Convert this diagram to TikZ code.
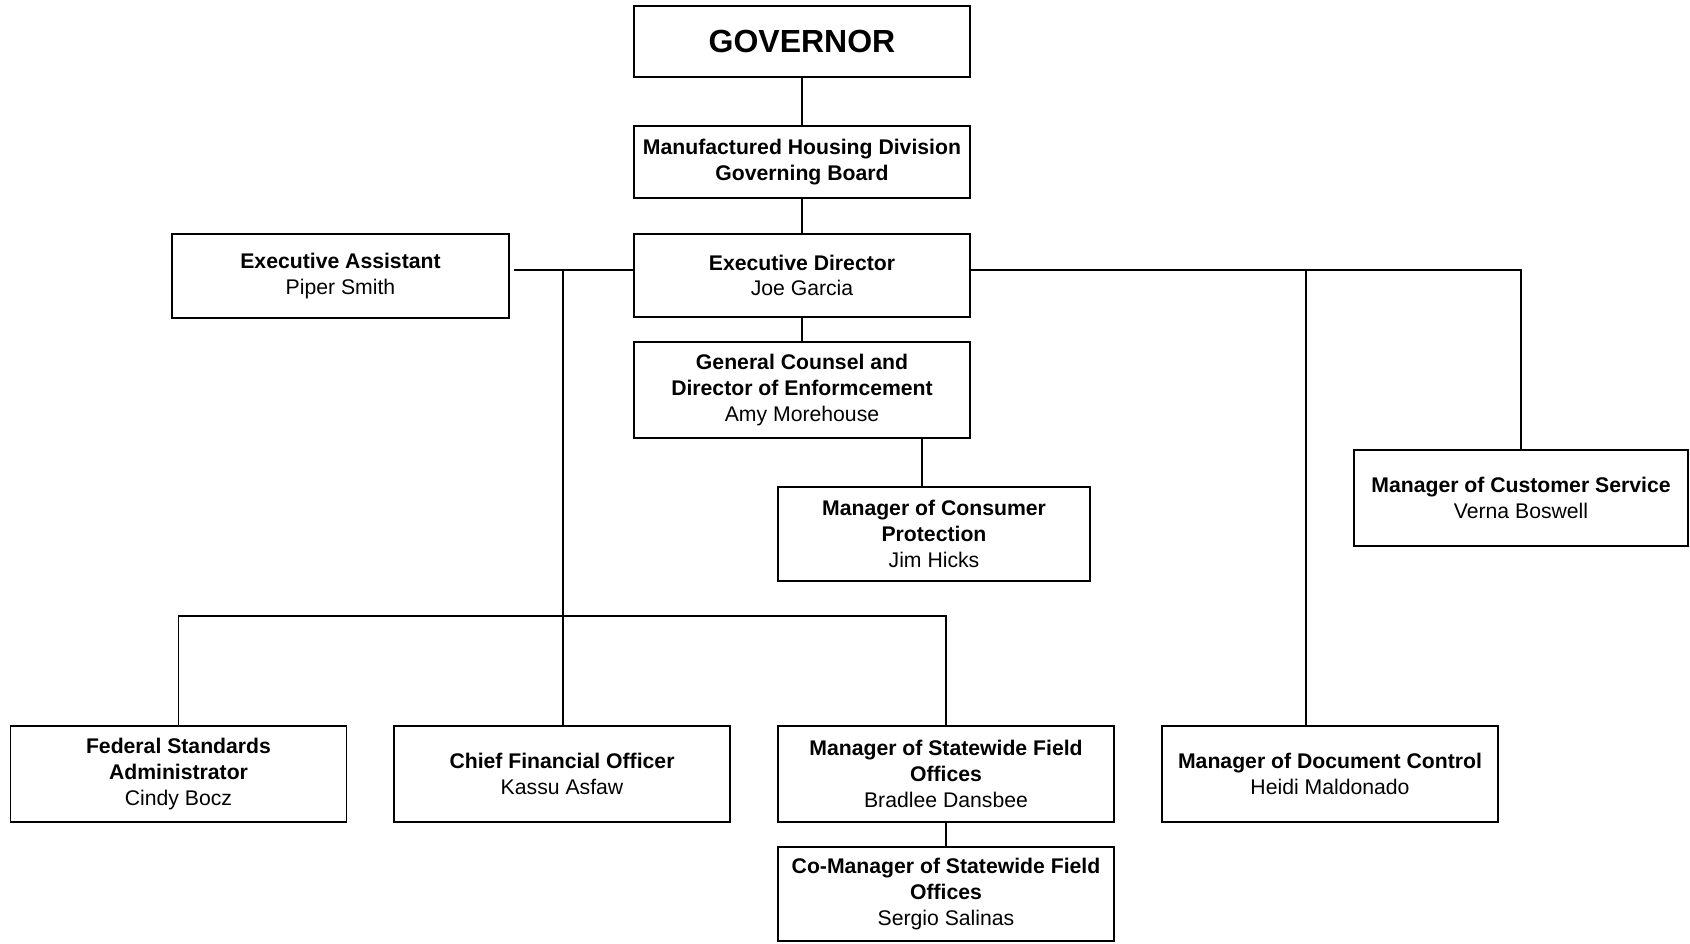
\documentclass[tikz,border=0pt]{standalone}
\usepackage{fontspec}
\setmainfont{Liberation Sans}
\begin{document}
\begin{tikzpicture}[x=1pt,y=-1pt,
  box/.style={draw, line width=1.8pt, rectangle, inner sep=0pt, align=center,
    font=\fontsize{21.2}{25.8}\selectfont, minimum width=336pt},
  conn/.style={line width=1.8pt}]
\useasboundingbox (0,0) rectangle (1690,943);
\fill[white] (0,0) rectangle (1690,943);
% nodes
\node[box, minimum height=71pt, font=\fontsize{32}{36}\selectfont\bfseries] (gov) at (802,41.5) {GOVERNOR};
\node[box, minimum height=72pt] (mhd) at (802,162) {\textbf{Manufactured Housing Division}\\\textbf{Governing Board}};
\node[box, minimum height=83pt] (ed) at (802,275.5) {\textbf{Executive Director}\\Joe Garcia};
\node[box, minimum height=84pt, minimum width=337pt] (ea) at (340.5,276) {\textbf{Executive Assistant}\\Piper Smith};
\node[box, minimum height=96pt] (gc) at (802,390) {\textbf{General Counsel and}\\\textbf{Director of Enformcement}\\Amy Morehouse};
\node[box, minimum height=94pt, minimum width=312pt] (cp) at (934,534) {\textbf{Manager of Consumer}\\\textbf{Protection}\\Jim Hicks};
\node[box, minimum height=96pt, minimum width=334pt] (cs) at (1521,498) {\textbf{Manager of Customer Service}\\Verna Boswell};
\node[box, minimum height=96pt] (fs) at (178.5,774) {\textbf{Federal Standards}\\\textbf{Administrator}\\Cindy Bocz};
\node[box, minimum height=96pt] (cfo) at (562,774) {\textbf{Chief Financial Officer}\\Kassu Asfaw};
\node[box, minimum height=96pt] (sw) at (946,774) {\textbf{Manager of Statewide Field}\\\textbf{Offices}\\Bradlee Dansbee};
\node[box, minimum height=96pt] (dc) at (1330,774) {\textbf{Manager of Document Control}\\Heidi Maldonado};
\node[box, minimum height=94pt] (co) at (946,894) {\textbf{Co-Manager of Statewide Field}\\\textbf{Offices}\\Sergio Salinas};
% junction coordinates
\coordinate (jl) at (563,270);
\coordinate (jb) at (563,616);
\coordinate (jdc) at (1306,270);
\coordinate (jcp) at (922,438);
% connectors
\draw[conn] (gov.south) -- (mhd.north);
\draw[conn] (mhd.south) -- (ed.north);
\draw[conn] (ed.south) -- (gc.north);
\draw[conn] ([xshift=4pt]ea.east |- jl) -- (ed.west |- jl);
\draw[conn] (jl) -- (cfo.north -| jl);
\draw[conn] (fs.north) -- (fs.north |- jb) -- (sw.north |- jb) -- (sw.north);
\draw[conn] (ed.east |- jl) -- (cs.north |- jl) -- (cs.north);
\draw[conn] (jdc) -- (dc.north -| jdc);
\draw[conn] (jcp) -- (cp.north -| jcp);
\draw[conn] (sw.south) -- (co.north);
\end{tikzpicture}
\end{document}
